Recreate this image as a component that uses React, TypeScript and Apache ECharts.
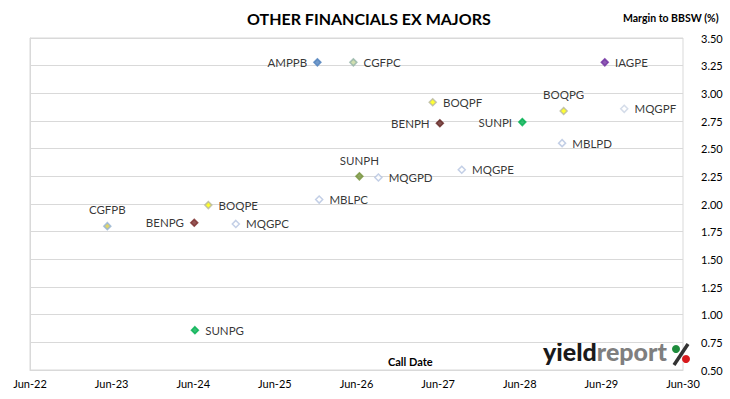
import React, { useEffect, useRef } from "react";
import * as echarts from "echarts";

// ---- data ----
const securities = [
  "AMPPB", "CGFPC", "BOQPF", "BENPH", "SUNPI", "IAGPE", "BOQPG", "MQGPF", "MBLPD",
  "CGFPB", "BENPG", "BOQPE", "MQGPC", "MBLPC", "SUNPH", "MQGPD", "MQGPE", "SUNPG",
];
const callDates = [
  "2025-12-08", "2026-05-18", "2027-05-08", "2027-06-09", "2028-06-12", "2029-06-16", "2028-12-14", "2029-09-11", "2028-12-07",
  "2023-05-13", "2024-06-05", "2024-08-07", "2024-12-08", "2025-12-16", "2026-06-14", "2026-09-07", "2027-09-15", "2024-06-08",
];
const margins = [
  3.28, 3.28, 2.92, 2.73, 2.74, 3.28, 2.84, 2.86, 2.55,
  1.80, 1.83, 1.99, 1.82, 2.04, 2.25, 2.24, 2.31, 0.86,
];
const xTickLabels = ["Jun-22", "Jun-23", "Jun-24", "Jun-25", "Jun-26", "Jun-27", "Jun-28", "Jun-29", "Jun-30"];
const yMin = 0.5;
const yMax = 3.5;
const yStep = 0.25;

// ---- styles (by security) ----
const markerStyle: Record<string, { fill: string; stroke: string; label: string }> = {
  AMPPB: { fill: "#4f81bd", stroke: "#4f81bd", label: "left" },
  CGFPC: { fill: "#c4d79b", stroke: "#93b3a8", label: "right" },
  BOQPF: { fill: "#ffff00", stroke: "#b7b7a0", label: "right" },
  BENPH: { fill: "#632523", stroke: "#632523", label: "left" },
  SUNPI: { fill: "#00b050", stroke: "#00b050", label: "left" },
  IAGPE: { fill: "#7030a0", stroke: "#7030a0", label: "right" },
  BOQPG: { fill: "#ffff00", stroke: "#b7b7a0", label: "top" },
  MQGPF: { fill: "#ffffff", stroke: "#c9d3e3", label: "right" },
  MBLPD: { fill: "#ffffff", stroke: "#b4c3e0", label: "right" },
  CGFPB: { fill: "#d6c94a", stroke: "#95b3d7", label: "top" },
  BENPG: { fill: "#7b2c2a", stroke: "#7b2c2a", label: "left" },
  BOQPE: { fill: "#ffff00", stroke: "#b7b7a0", label: "right" },
  MQGPC: { fill: "#ffffff", stroke: "#b4c3e0", label: "right" },
  MBLPC: { fill: "#ffffff", stroke: "#b4c3e0", label: "right" },
  SUNPH: { fill: "#77933c", stroke: "#77933c", label: "top" },
  MQGPD: { fill: "#ffffff", stroke: "#b4c3e0", label: "right" },
  MQGPE: { fill: "#ffffff", stroke: "#b4c3e0", label: "right" },
  SUNPG: { fill: "#00b050", stroke: "#00b050", label: "right" },
};

const FONT = "Lato, 'Noto Sans', sans-serif";
const BASE = Date.UTC(2022, 5, 1);
const yearsSinceBase = (d: string) => {
  const [y, m, day] = d.split("-").map(Number);
  return (Date.UTC(y, m - 1, day) - BASE) / (365.25 * 86400000);
};

export default function App() {
  const ref = useRef<HTMLDivElement>(null);
  useEffect(() => {
    if (!ref.current) return;
    const chart = echarts.init(ref.current, undefined, { renderer: "svg" });
    const data = securities.map((name, i) => {
      const st = markerStyle[name];
      return {
        name,
        value: [yearsSinceBase(callDates[i]), margins[i]],
        itemStyle: { color: st.fill, borderColor: st.stroke, borderWidth: 1.5 },
        label: { position: st.label as any },
      };
    });
    chart.setOption({
      animation: false,
      backgroundColor: "#ffffff",
      textStyle: { fontFamily: FONT },
      grid: {
        left: 30,
        right: 47,
        top: 38,
        bottom: 29,
        show: true,
        borderColor: "#d9d9d9",
        borderWidth: 1,
      },
      xAxis: {
        type: "value",
        min: 0,
        max: xTickLabels.length - 1,
        interval: 1,
        axisLine: { show: true, lineStyle: { color: "#d9d9d9" } },
        axisTick: { show: false },
        splitLine: { show: false },
        axisLabel: {
          margin: 8,
          color: "#000",
          fontSize: 11,
          fontFamily: FONT,
          formatter: (v: number) => xTickLabels[Math.round(v)] ?? "",
        },
      },
      yAxis: {
        type: "value",
        position: "right",
        min: yMin,
        max: yMax,
        interval: yStep,
        axisLine: { show: true, lineStyle: { color: "#d9d9d9" } },
        axisTick: { show: true, length: 5, lineStyle: { color: "#d9d9d9" } },
        splitLine: { show: true, lineStyle: { color: "#d9d9d9", width: 1 } },
        axisLabel: {
          margin: 18,
          color: "#000",
          fontSize: 11,
          fontFamily: FONT,
          formatter: (v: number) => v.toFixed(2),
        },
      },
      series: [
        {
          type: "scatter",
          symbol: "diamond",
          symbolSize: 7,
          data,
          label: {
            show: true,
            formatter: "{b}",
            color: "#000",
            fontSize: 11.5,
            fontFamily: FONT,
            distance: 6,
          },
        },
      ],
      graphic: [
        {
          type: "text",
          x: 247,
          y: 10,
          style: {
            text: "OTHER FINANCIALS EX MAJORS",
            fontSize: 16,
            fontWeight: "bold",
            fontFamily: FONT,
            fill: "#000",
          },
        },
        {
          type: "text",
          x: 623,
          y: 12,
          style: { text: "Margin to BBSW (%)", fontSize: 10.5, fontWeight: "bold", fontFamily: FONT, fill: "#000" },
        },
        {
          type: "text",
          x: 388,
          y: 356,
          style: { text: "Call Date", fontSize: 11, fontWeight: "bold", fontFamily: FONT, fill: "#000" },
        },
        {
          type: "text",
          x: 543,
          y: 338,
          style: {
            text: "{a|yield}{b|report}",
            rich: {
              a: { fontSize: 25, fontWeight: 900, fontFamily: FONT, fill: "#1a1a1a", textStroke: "#1a1a1a", lineWidth: 0.8 },
              b: { fontSize: 25, fontWeight: 900, fontFamily: FONT, fill: "#7f7f7f" },
            },
          },
        },
        {
          type: "line",
          shape: { x1: 688, y1: 344, x2: 674, y2: 365 },
          style: { stroke: "#333", lineWidth: 3.5 },
        },
        { type: "circle", shape: { cx: 676, cy: 349, r: 4 }, style: { fill: "#1e8c3c" } },
        { type: "circle", shape: { cx: 686, cy: 359, r: 4 }, style: { fill: "#d7191c" } },
      ],
    });
    return () => chart.dispose();
  }, []);
  return <div ref={ref} style={{ position: "fixed", left: 0, top: 0, width: 730, height: 399 }} />;
}
